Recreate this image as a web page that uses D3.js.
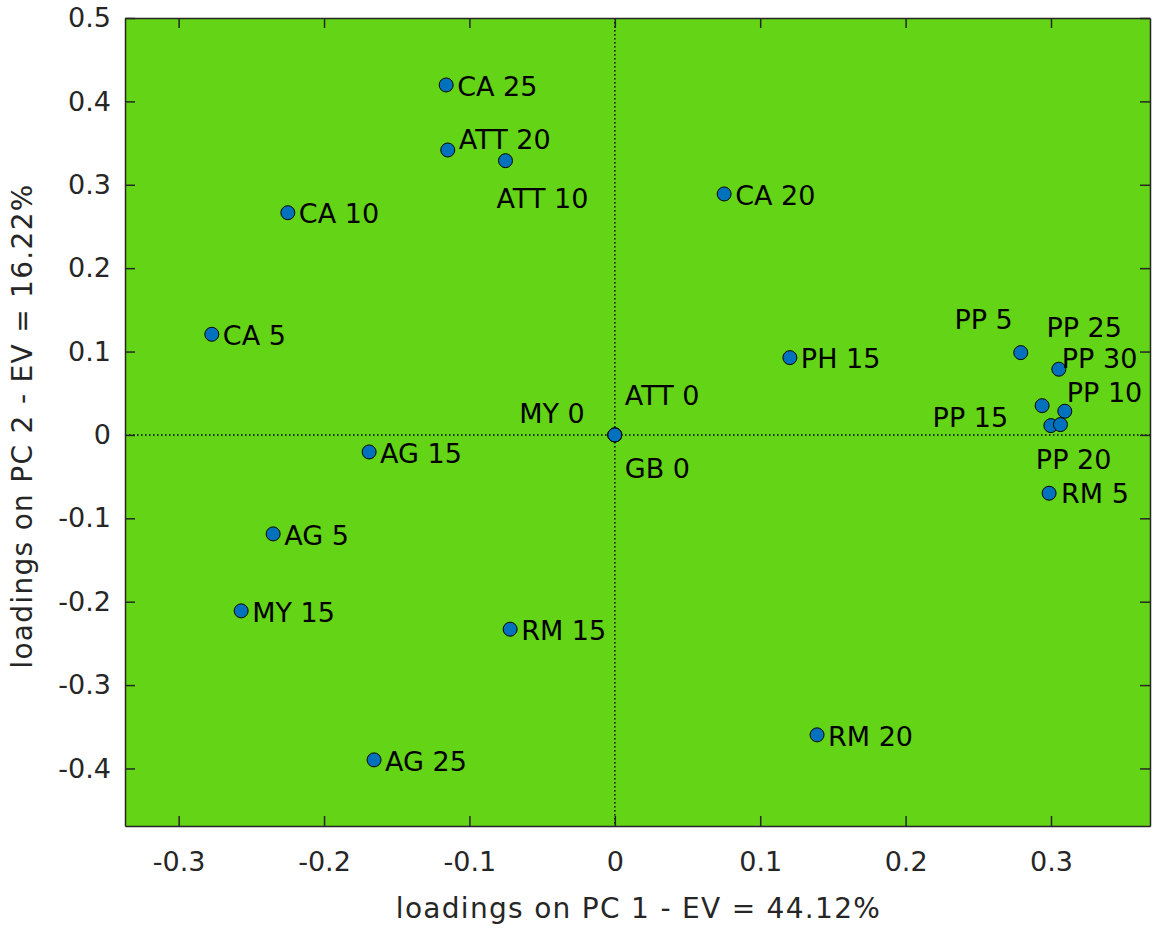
<!DOCTYPE html>
<html>
<head>
<meta charset="utf-8">
<script src="https://cdn.jsdelivr.net/npm/d3@7"></script>
<style>
  html, body { margin: 0; padding: 0; background: #ffffff; }
  svg { display: block; }
  text { font-family: "DejaVu Sans", sans-serif; }
</style>
</head>
<body>
<svg id="chart" width="1154" height="928"></svg>
<script>
// Variable names and their loadings on the first two principal components
const varNames = ["CA 25", "ATT 20", "ATT 10", "CA 20", "CA 10", "CA 5", "PH 15",
  "MY 0", "ATT 0", "GB 0", "AG 15", "AG 5", "MY 15", "RM 15", "AG 25", "RM 20",
  "RM 5", "PP 5", "PP 30", "PP 15", "PP 10", "PP 20", "PP 25"];
const pc1 = [-0.1160, -0.1149, -0.0752, 0.0752, -0.2249, -0.2772, 0.1204,
  0.0, 0.0, 0.0, -0.1690, -0.2350, -0.2570, -0.0720, -0.1656, 0.1391,
  0.2987, 0.2792, 0.3054, 0.2939, 0.3095, 0.2999, 0.3065];
const pc2 = [0.4197, 0.3417, 0.3289, 0.2890, 0.2665, 0.1207, 0.0927,
  0.0, 0.0, 0.0, -0.0204, -0.1187, -0.2110, -0.2330, -0.3897, -0.3597,
  -0.0699, 0.0987, 0.0788, 0.0351, 0.0284, 0.0112, 0.0124];

const xTicks = [-0.3, -0.2, -0.1, 0, 0.1, 0.2, 0.3];
const yTicks = [-0.4, -0.3, -0.2, -0.1, 0, 0.1, 0.2, 0.3, 0.4, 0.5];
const xLabel = "loadings on PC 1 - EV = 44.12%";
const yLabel = "loadings on PC 2 - EV = 16.22%";

// Label placement: offset in px from the marker centre, and text anchor
const labelNudge = {
  "ATT 20": { dx: 11, dy: -11 },
  "ATT 10": { dx: -9, dy: 38 },
  "ATT 0":  { dx: 10, dy: -40 },
  "MY 0":   { dx: -30, dy: -22, anchor: "end" },
  "GB 0":   { dx: 10, dy: 33 },
  "PP 5":   { dx: -8, dy: -33, anchor: "end" },
  "PP 30":  { dx: 3, dy: -11 },
  "PP 25":  { dx: -14, dy: -97 },
  "PP 10":  { dx: 2, dy: -19 },
  "PP 15":  { dx: -34, dy: 12, anchor: "end" },
  "PP 20":  { dx: -15, dy: 34 },
  "RM 5":   { dx: 12, dy: 0 }
};
const defaultNudge = { dx: 11, dy: 1 };

const box = { left: 125, right: 1150, top: 18, bottom: 826 };
const axisColor = "#262626";
const plotFill = "#63d416";

const svg = d3.select("#chart");

const x = d3.scaleLinear().domain([-0.3369, 0.3681]).range([box.left, box.right]);
const y = d3.scaleLinear().domain([-0.469, 0.5]).range([box.bottom, box.top]);

// plot area background
svg.append("rect")
  .attr("x", box.left).attr("y", box.top)
  .attr("width", box.right - box.left).attr("height", box.bottom - box.top)
  .attr("fill", plotFill);

// dotted zero lines
svg.append("line")
  .attr("x1", box.left).attr("x2", box.right)
  .attr("y1", y(0)).attr("y2", y(0))
  .attr("stroke", "#000").attr("stroke-width", 1.5)
  .attr("stroke-dasharray", "1.5,2.5");
svg.append("line")
  .attr("x1", x(0)).attr("x2", x(0))
  .attr("y1", box.top).attr("y2", box.bottom)
  .attr("stroke", "#000").attr("stroke-width", 1.5)
  .attr("stroke-dasharray", "1.5,2.5");

// axes with inward ticks on all four sides
const tickLen = 10;
function styleAxis(g) {
  g.selectAll("path.domain").attr("stroke", axisColor).attr("stroke-width", 1.5);
  g.selectAll(".tick line").attr("stroke", axisColor).attr("stroke-width", 1.5);
}
// plain hyphen for negative tick values
const fmt = d => d === 0 ? "0" : d3.format(".1f")(d).replace("\u2212", "-");

const gBottom = svg.append("g").attr("transform", `translate(0,${box.bottom})`)
  .call(d3.axisBottom(x).tickValues(xTicks).tickFormat(fmt)
    .tickSizeInner(-tickLen).tickSizeOuter(0).tickPadding(26));
const gTop = svg.append("g").attr("transform", `translate(0,${box.top})`)
  .call(d3.axisTop(x).tickValues(xTicks).tickFormat("")
    .tickSizeInner(-tickLen).tickSizeOuter(0));
const gLeft = svg.append("g").attr("transform", `translate(${box.left},0)`)
  .call(d3.axisLeft(y).tickValues(yTicks).tickFormat(fmt)
    .tickSizeInner(-tickLen).tickSizeOuter(0).tickPadding(14));
const gRight = svg.append("g").attr("transform", `translate(${box.right},0)`)
  .call(d3.axisRight(y).tickValues(yTicks).tickFormat("")
    .tickSizeInner(-tickLen).tickSizeOuter(0));
[gBottom, gTop, gLeft, gRight].forEach(styleAxis);

[gBottom, gLeft].forEach(g => g.selectAll(".tick text")
  .attr("fill", axisColor)
  .style("font-family", "'DejaVu Sans', sans-serif")
  .style("font-size", "27px"));
gBottom.selectAll(".tick text").attr("dy", "0.71em");

// axis titles
svg.append("text")
  .attr("x", (box.left + box.right) / 2 + 1).attr("y", 918)
  .attr("text-anchor", "middle")
  .attr("fill", axisColor)
  .style("font-size", "28px")
  .style("letter-spacing", "1.3px")
  .text(xLabel);
svg.append("text")
  .attr("transform", `translate(32,${(box.top + box.bottom) / 2 + 4}) rotate(-90)`)
  .attr("text-anchor", "middle")
  .attr("fill", axisColor)
  .style("font-size", "28px")
  .style("letter-spacing", "1.3px")
  .text(yLabel);

// points and labels
const pts = varNames.map((name, i) => ({ name, v1: pc1[i], v2: pc2[i] }));

svg.append("g").selectAll("circle")
  .data(pts)
  .join("circle")
  .attr("cx", d => x(d.v1))
  .attr("cy", d => y(d.v2))
  .attr("r", 7)
  .attr("fill", "#0072bd")
  .attr("stroke", "#000")
  .attr("stroke-width", 1);

svg.append("g").selectAll("text")
  .data(pts)
  .join("text")
  .each(function (d) {
    const n = labelNudge[d.name] || defaultNudge;
    d3.select(this)
      .attr("x", x(d.v1) + n.dx)
      .attr("y", y(d.v2) + n.dy)
      .attr("text-anchor", n.anchor || "start");
  })
  .attr("dy", "0.36em")
  .attr("fill", "#000")
  .style("font-size", "27px")
  .text(d => d.name);
</script>
</body>
</html>
